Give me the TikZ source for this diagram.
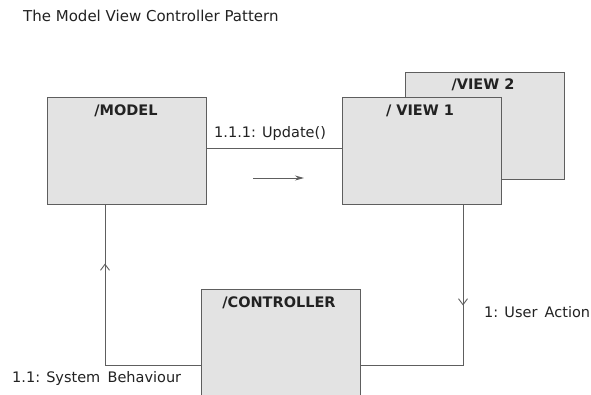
\documentclass[tikz,border=0pt]{standalone}
\usepackage{fontspec}
\setmainfont{DejaVu Sans}
\usetikzlibrary{arrows.meta,decorations.markings}
\definecolor{boxfill}{HTML}{E3E3E3}
\definecolor{edge}{HTML}{5E5E5E}
\definecolor{ink}{HTML}{222222}
\begin{document}
\begin{tikzpicture}[x=1pt,y=-1pt,
  obj/.style={draw=edge,line width=0.9pt,fill=boxfill,minimum width=159pt,minimum height=107pt,inner sep=0pt},
  ttl/.style={font=\bfseries\fontsize{14.5}{17}\selectfont,text=ink,anchor=base,inner sep=0pt},
  lbl/.style={font=\fontsize{14.5}{17}\selectfont,text=ink,anchor=base west,inner sep=0pt},
  conn/.style={draw=edge,line width=0.9pt},
  midarrow/.style={postaction={decorate},decoration={markings,mark=at position #1 with {\arrow{Straight Barb[length=6pt,width=9pt]}}}}]
\clip (0,0) rectangle (591,394);
\fill[white] (0,0) rectangle (591,394);
% title
\node[lbl,font=\fontsize{15}{18}\selectfont] (title) at (23,21) {The Model View Controller Pattern};
% objects
\node[obj] (view2) at (485,125.5) {};
\node[obj] (view1) at (421.5,150.5) {};
\node[obj] (model) at (126.5,150.5) {};
\node[obj,minimum height=112pt] (ctrl) at (280.5,345) {};
\node[ttl] (modelT) at (126,115) {/MODEL};
\node[ttl] (view1T) at (420,115) {/ VIEW 1};
\node[ttl] (view2T) at (483,89) {/VIEW 2};
\node[ttl] (ctrlT) at (279,307) {/CONTROLLER};
% connectors
\draw[conn] ([yshift=2pt]model.east) -- ([yshift=2pt]view1.west);
\node[lbl] (upd) at (214,137) {1.1.1: Update()};
\coordinate (a1) at (253,178);
\coordinate (a2) at (304,178);
\draw[conn,-{Stealth[length=9pt,width=5pt]}] (a1) -- (a2);
\coordinate (ur) at (463,365);
\draw[conn,midarrow=101pt] (view1.south -| ur) -- (ur) -- (ctrl.east |- ur);
\node[lbl] (ua) at (484,317) {1: User\hspace{0.5em}Action};
\coordinate (ul) at (105,365);
\draw[conn,midarrow=197pt] (ctrl.west |- ul) -- (ul) -- (model.south -| ul);
\node[lbl] (sb) at (12,382) {1.1: System\hspace{0.5em}Behaviour};
\end{tikzpicture}
\end{document}
